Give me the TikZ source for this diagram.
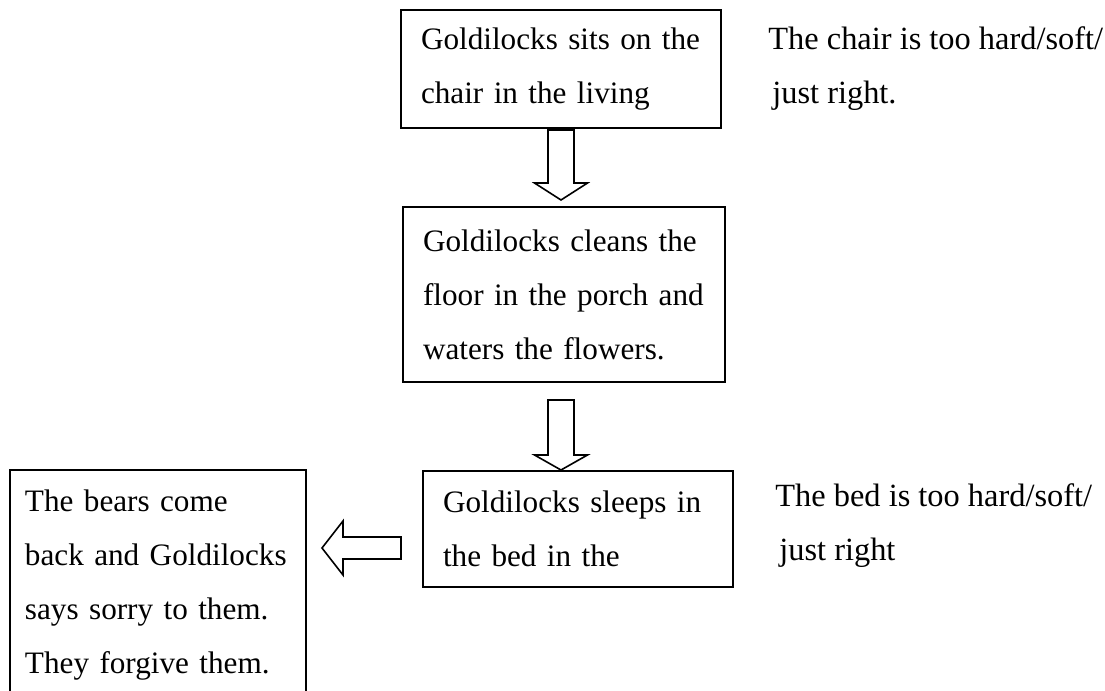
\documentclass[tikz,border=0pt]{standalone}
\usepackage{fontspec}
\setmainfont{Liberation Serif}
\usetikzlibrary{positioning,calc}

\begin{document}
\begin{tikzpicture}[
    x=0.5pt,y=-0.5pt,
    tekst/.style={font=\fontsize{15.6}{27}\selectfont},
    blok/.style={rectangle,draw,line width=1pt,anchor=north west,align=left,
                 inner xsep=10pt,inner ysep=0pt,outer sep=0pt,tekst},
    napomena/.style={align=left,inner sep=0pt,font=\fontsize{16.2}{27}\selectfont},
    strelica/.style={draw,line width=0.8pt,fill=white,line join=miter}
]
\useasboundingbox (0,0) rectangle (1105,691);
\clip (0,0) rectangle (1105,691);

\node[blok,text width=140pt,minimum height=59pt] (chair) at (401,10) {Goldilocks sits on the\\chair in the living};
\node[blok,text width=141pt,minimum height=87.5pt] (clean) at (403,207) {Goldilocks cleans the\\floor in the porch and\\waters the flowers.};
\node[blok,text width=135pt,minimum height=58pt] (sleep) at (423,471) {Goldilocks sleeps in\\the bed in the};
\node[blok,inner xsep=7.5pt,text width=133pt,minimum height=115.5pt] (bears) at (10,470) {The bears come\\back and Goldilocks\\says sorry to them.\\They forgive them.};
\node[napomena,right=23.5pt of chair] (chairnote) {The chair is too hard/soft/\\\hspace{2pt}just right.};
\node[napomena,right=21pt of sleep,yshift=1.5pt] (bednote) {The bed is too hard/soft/\\\hspace{2pt}just right};

% block arrows between the boxes
\draw[strelica] ($(chair.south)+(-13,2)$) -- ++(26,0) -- ++(0,53) -- ++(13.5,0)
    -- ++(-26.5,17) -- ++(-26.5,-17) -- ++(13.5,0) -- cycle;
\draw[strelica] ($(clean.south)+(-16,18)$) -- ++(26,0) -- ++(0,55) -- ++(13.5,0)
    -- ++(-26.5,15) -- ++(-26.5,-15) -- ++(13.5,0) -- cycle;
\draw[strelica] ($(sleep.west)+(-22,8)$) -- ++(0,22) -- ++(-58,0) -- ++(0,16)
    -- ++(-21,-27) -- ++(21,-27) -- ++(0,16) -- cycle;
\end{tikzpicture}
\end{document}
